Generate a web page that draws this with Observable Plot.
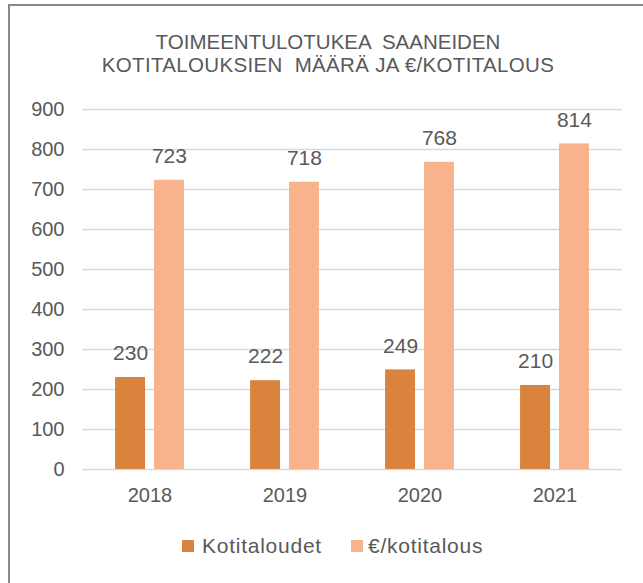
<!DOCTYPE html>
<html>
<head>
<meta charset="utf-8">
<script src="https://cdn.jsdelivr.net/npm/d3@7"></script>
<script src="https://cdn.jsdelivr.net/npm/@observablehq/plot@0.6"></script>
<style>
  html, body { margin: 0; padding: 0; background: #fff; overflow: hidden; }
  body { width: 643px; height: 583px; position: relative; font-family: "Liberation Sans", Arial, sans-serif; color: #595959; }
  #frame { position: absolute; left: 8px; top: 4px; width: 700px; height: 700px; border: 2px solid #888; box-sizing: border-box; }
  #title { position: absolute; left: 0; top: 29.5px; width: 656px; text-align: center; font-size: 20.5px; line-height: 23px; color: #595959; }
  #title div { white-space: pre; }
  #chart { position: absolute; left: 0; top: 90px; }
  #legend { position: absolute; top: 534px; left: 0; height: 24px; font-size: 21px; color: #595959; }
  .sw { position: absolute; width: 12px; height: 12px; top: 6px; }
  .lt { position: absolute; top: 0; line-height: 24px; white-space: nowrap; letter-spacing: 0.75px; }
</style>
</head>
<body>
<div id="frame"></div>
<div id="title"></div>
<div id="chart"></div>
<div id="legend"></div>
<script>
const titleLines = ["TOIMEENTULOTUKEA  SAANEIDEN", "KOTITALOUKSIEN  MÄÄRÄ JA €/KOTITALOUS"];
const years = ["2018", "2019", "2020", "2021"];
const series = ["Kotitaloudet", "€/kotitalous"];
const households = [230, 222, 249, 210];
const eurPerHousehold = [723, 718, 768, 814];
const colors = ["#D9833C", "#F8B38C"];
const yTicks = [0, 100, 200, 300, 400, 500, 600, 700, 800, 900];

const data = [];
years.forEach((yr, i) => {
  data.push({year: yr, series: series[0], value: households[i]});
  data.push({year: yr, series: series[1], value: eurPerHousehold[i]});
});

const titleEl = document.getElementById("title");
titleLines.forEach((line, i) => {
  const d = document.createElement("div");
  d.textContent = line;
  if (i === 1) d.style.letterSpacing = "0.33px";
  titleEl.appendChild(d);
});

const chart = Plot.plot({
  width: 643,
  height: 430,
  marginLeft: 81,
  marginRight: 21,
  marginTop: 19,
  marginBottom: 51,
  style: {fontFamily: "'Liberation Sans', Arial, sans-serif", fontSize: "20px", color: "#595959", background: "transparent", overflow: "visible"},
  fx: {domain: years, padding: 0, label: null, tickSize: 0, tickPadding: 18},
  x: {domain: series, paddingInner: 0.23, paddingOuter: 0.85, axis: null, round: false},
  y: {domain: [0, 900], ticks: yTicks, label: null, tickSize: 0, tickPadding: 18},
  color: {domain: series, range: colors},
  marks: [
    Plot.gridY(yTicks, {stroke: "#d9d9d9", strokeWidth: 1.6, strokeOpacity: 1}),
    Plot.barY(data, {fx: "year", x: "series", y: "value", fill: "series"}),
    Plot.text(data, {fx: "year", x: "series", y: "value", text: d => String(d.value), dy: -24, lineAnchor: "middle", fill: "#595959", fontSize: 21})
  ]
});
document.getElementById("chart").appendChild(chart);

const legend = document.getElementById("legend");
const swX = [182, 351];
const txX = [202, 368];
series.forEach((s, i) => {
  const sw = document.createElement("div");
  sw.className = "sw";
  sw.style.left = swX[i] + "px";
  sw.style.background = colors[i];
  legend.appendChild(sw);
  const t = document.createElement("div");
  t.className = "lt";
  t.style.left = txX[i] + "px";
  t.textContent = s;
  legend.appendChild(t);
});
</script>
</body>
</html>
